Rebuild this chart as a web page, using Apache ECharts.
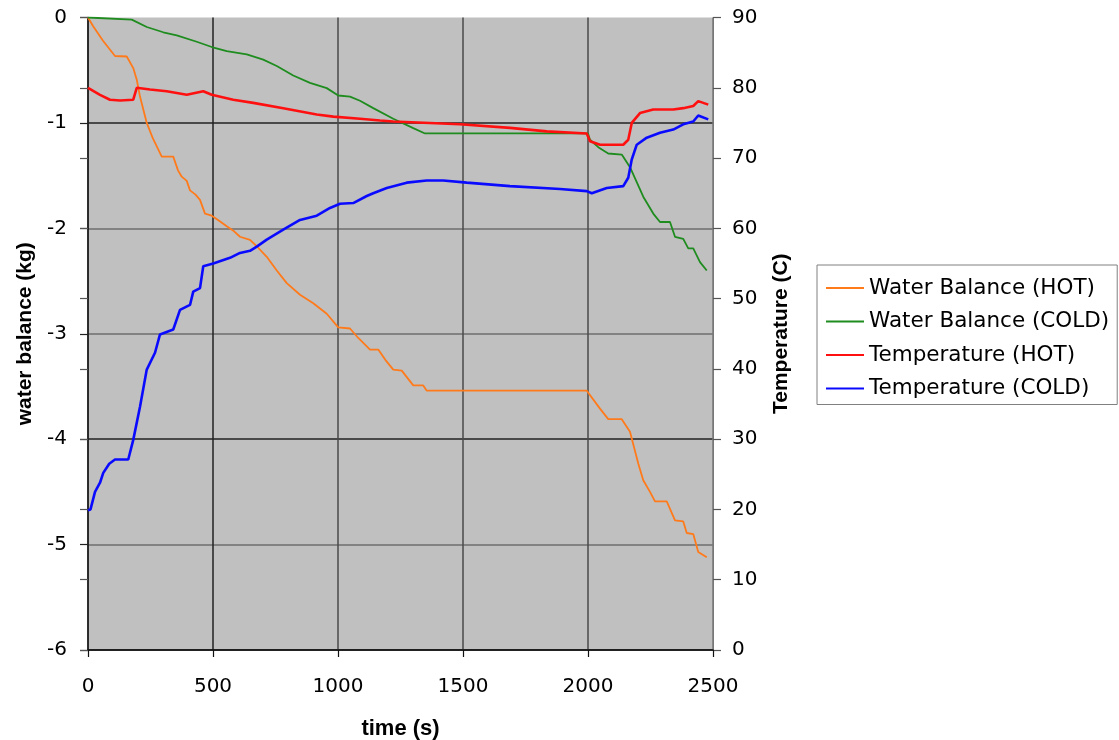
<!DOCTYPE html>
<html>
<head>
<meta charset="utf-8">
<title>Water balance and temperature</title>
<script src="https://cdn.jsdelivr.net/npm/echarts@6/dist/echarts.min.js"></script>
<style>
  html, body { margin: 0; padding: 0; background: #fff; overflow: hidden; }
  #chart { width: 1119px; height: 740px; overflow: hidden; }
</style>
</head>
<body>
<div id="chart"></div>
<script>
// Time axis ticks (s) and the two value scales
const timeTicks = [0, 500, 1000, 1500, 2000, 2500];
const waterTicks = [-6, -5, -4, -3, -2, -1, 0];
const tempTicks = [0, 10, 20, 30, 40, 50, 60, 70, 80, 90];

const seriesNames = [
  'Water Balance (HOT)',
  'Water Balance (COLD)',
  'Temperature (HOT)',
  'Temperature (COLD)'
];

// [time (s), water balance (kg)]
const waterBalanceHot = [
  [0, 0], [20, -0.08], [60, -0.22], [108, -0.365], [155, -0.37], [181, -0.48],
  [195, -0.59], [208, -0.75], [235, -1.0], [260, -1.15], [295, -1.32], [341, -1.32],
  [360, -1.45], [375, -1.51], [395, -1.55], [408, -1.64], [430, -1.68], [448, -1.73],
  [468, -1.86], [495, -1.88], [520, -1.92], [555, -1.98], [580, -2.02], [608, -2.08],
  [648, -2.11], [675, -2.17], [715, -2.27], [755, -2.40], [795, -2.52], [848, -2.63],
  [901, -2.71], [955, -2.81], [1001, -2.94], [1048, -2.95], [1081, -3.04], [1128, -3.15],
  [1161, -3.15], [1190, -3.25], [1221, -3.34], [1255, -3.35], [1301, -3.49], [1341, -3.49],
  [1355, -3.54], [1995, -3.54], [2048, -3.71], [2081, -3.81], [2135, -3.81], [2168, -3.93],
  [2201, -4.23], [2221, -4.39], [2248, -4.50], [2268, -4.59], [2315, -4.59], [2348, -4.77],
  [2381, -4.78], [2395, -4.89], [2421, -4.90], [2441, -5.07], [2475, -5.12]
];

const waterBalanceCold = [
  [0, 0], [175, -0.02], [235, -0.09], [301, -0.14], [355, -0.17], [435, -0.23],
  [495, -0.28], [555, -0.32], [635, -0.35], [701, -0.40], [755, -0.46], [821, -0.55],
  [888, -0.62], [955, -0.67], [1001, -0.74], [1048, -0.75], [1088, -0.79], [1141, -0.86],
  [1221, -0.96], [1301, -1.05], [1348, -1.10], [2000, -1.10], [2008, -1.16], [2041, -1.23],
  [2081, -1.29], [2135, -1.30], [2168, -1.42], [2221, -1.70], [2261, -1.86], [2288, -1.94],
  [2328, -1.94], [2348, -2.08], [2381, -2.10], [2401, -2.19], [2421, -2.19], [2448, -2.32],
  [2475, -2.40]
];

// [time (s), temperature (C)]
const temperatureHot = [
  [0, 80.0], [48, 79.0], [88, 78.3], [128, 78.2], [181, 78.3], [195, 80.0],
  [248, 79.75], [315, 79.5], [395, 79.0], [461, 79.5], [495, 79.0], [581, 78.3],
  [661, 77.85], [781, 77.1], [915, 76.2], [981, 75.9], [1088, 75.6], [1168, 75.35],
  [1221, 75.2], [1488, 74.8], [1688, 74.3], [1835, 73.8], [1995, 73.5], [2008, 72.4],
  [2048, 71.9], [2141, 71.9], [2161, 72.6], [2175, 75.0], [2208, 76.4], [2261, 76.9],
  [2341, 76.9], [2381, 77.1], [2421, 77.4], [2441, 78.1], [2481, 77.6]
];

const temperatureCold = [
  [0, 19.9], [10, 20.0], [28, 22.5], [48, 23.8], [61, 25.2], [85, 26.5],
  [108, 27.1], [161, 27.1], [181, 29.9], [208, 34.6], [235, 39.9], [268, 42.3],
  [288, 44.9], [341, 45.6], [368, 48.4], [408, 49.1], [421, 51.0], [448, 51.5],
  [461, 54.6], [501, 55.0], [568, 55.8], [608, 56.5], [648, 56.8], [675, 57.4],
  [715, 58.4], [781, 59.8], [848, 61.2], [915, 61.8], [968, 62.9], [1008, 63.5],
  [1061, 63.6], [1115, 64.6], [1141, 65.0], [1195, 65.75], [1275, 66.5], [1355, 66.8],
  [1421, 66.8], [1515, 66.5], [1688, 66.0], [1888, 65.6], [1995, 65.3], [2015, 65.0],
  [2075, 65.75], [2141, 66.0], [2161, 67.2], [2175, 69.8], [2195, 71.9], [2235, 72.9],
  [2288, 73.6], [2341, 74.05], [2381, 74.8], [2421, 75.2], [2441, 76.05], [2481, 75.5]
];

const chart = echarts.init(document.getElementById('chart'), null, {
  renderer: 'canvas', width: 1119, height: 740
});

const tickFont = { fontFamily: 'DejaVu Sans', fontSize: 20, color: '#000' };
const titleFont = { fontFamily: 'Liberation Sans', fontWeight: 'bold', fontSize: 21, color: '#000' };
const plainNumber = function (v) { return String(v); };

function lineSeries(name, data, axis, color, width) {
  return {
    name: name,
    type: 'line',
    yAxisIndex: axis,
    data: data,
    symbol: 'none',
    showSymbol: false,
    smooth: false,
    lineStyle: { color: color, width: width },
    itemStyle: { color: color },
    emphasis: { disabled: true },
    z: 3
  };
}

chart.setOption({
  animation: false,
  backgroundColor: '#ffffff',
  grid: {
    left: 88, top: 17.5, right: 406, bottom: 90,
    containLabel: false,
    outerBoundsMode: 'none',
    show: true, backgroundColor: '#c0c0c0', borderWidth: 0
  },
  legend: {
    data: seriesNames,
    orient: 'vertical',
    left: 817, top: 265,
    padding: [12, 8, 5, 8],
    itemWidth: 38, itemHeight: 14, itemGap: 11.5,
    itemStyle: { opacity: 0 },
    borderColor: '#808080', borderWidth: 1,
    backgroundColor: '#ffffff',
    textStyle: { fontFamily: 'DejaVu Sans', fontSize: 21.5, lineHeight: 22, color: '#000' },
    selectedMode: false
  },
  xAxis: {
    type: 'value',
    min: timeTicks[0], max: timeTicks[timeTicks.length - 1], interval: 500,
    name: 'time (s)', nameLocation: 'middle', nameGap: 68,
    nameTextStyle: Object.assign({}, titleFont, { fontSize: 22 }),
    axisLine: { show: true, onZero: false, lineStyle: { color: '#111', width: 1.5 } },
    axisTick: { show: true, inside: false, length: 7, lineStyle: { color: '#111', width: 1.2 } },
    axisLabel: Object.assign({ margin: 27, formatter: plainNumber }, tickFont),
    splitLine: {
      show: true, showMinLine: true, showMaxLine: true,
      lineStyle: { color: ['#222', '#222', '#4a4a4a', '#4a4a4a', '#4a4a4a', '#777'], width: 1.5 }
    }
  },
  yAxis: [
    {
      type: 'value', position: 'left',
      min: waterTicks[0], max: waterTicks[waterTicks.length - 1], interval: 1,
      name: 'water balance (kg)', nameLocation: 'middle', nameGap: 52,
      nameTextStyle: titleFont,
      axisLine: { show: true, onZero: false, lineStyle: { color: '#222', width: 1.5 } },
      axisTick: { show: true, inside: false, length: 8, lineStyle: { color: '#222', width: 1.2 } },
      axisLabel: Object.assign({ margin: 21, formatter: plainNumber }, tickFont),
      splitLine: {
        show: true, showMinLine: true, showMaxLine: false,
        lineStyle: { color: ['#222', '#6e6e6e', '#222', '#6e6e6e', '#6e6e6e', '#222', '#c0c0c0'], width: 1.5 }
      }
    },
    {
      type: 'value', position: 'right',
      min: tempTicks[0], max: tempTicks[tempTicks.length - 1], interval: 10,
      name: 'Temperature (C)', nameLocation: 'middle', nameGap: 58,
      nameTextStyle: titleFont,
      axisLine: { show: true, onZero: false, lineStyle: { color: '#777', width: 1 } },
      axisTick: { show: true, inside: false, length: 8, lineStyle: { color: '#555', width: 1.2 } },
      axisLabel: Object.assign({ margin: 19, formatter: plainNumber }, tickFont),
      splitLine: { show: false }
    },
    {
      // inner half of the crossing ticks on the temperature scale
      type: 'value', position: 'right',
      min: tempTicks[0], max: tempTicks[tempTicks.length - 1], interval: 10,
      axisLine: { show: false },
      axisTick: { show: true, inside: true, length: 8, lineStyle: { color: '#555', width: 1.2 } },
      axisLabel: { show: false },
      splitLine: { show: false }
    }
  ],
  series: [
    lineSeries(seriesNames[0], waterBalanceHot, 0, '#ff7a1a', 1.8),
    lineSeries(seriesNames[1], waterBalanceCold, 0, '#1e8c1e', 1.8),
    lineSeries(seriesNames[2], temperatureHot, 1, '#ff1010', 2.6),
    lineSeries(seriesNames[3], temperatureCold, 1, '#0a0aff', 2.6)
  ]
});
</script>
</body>
</html>
